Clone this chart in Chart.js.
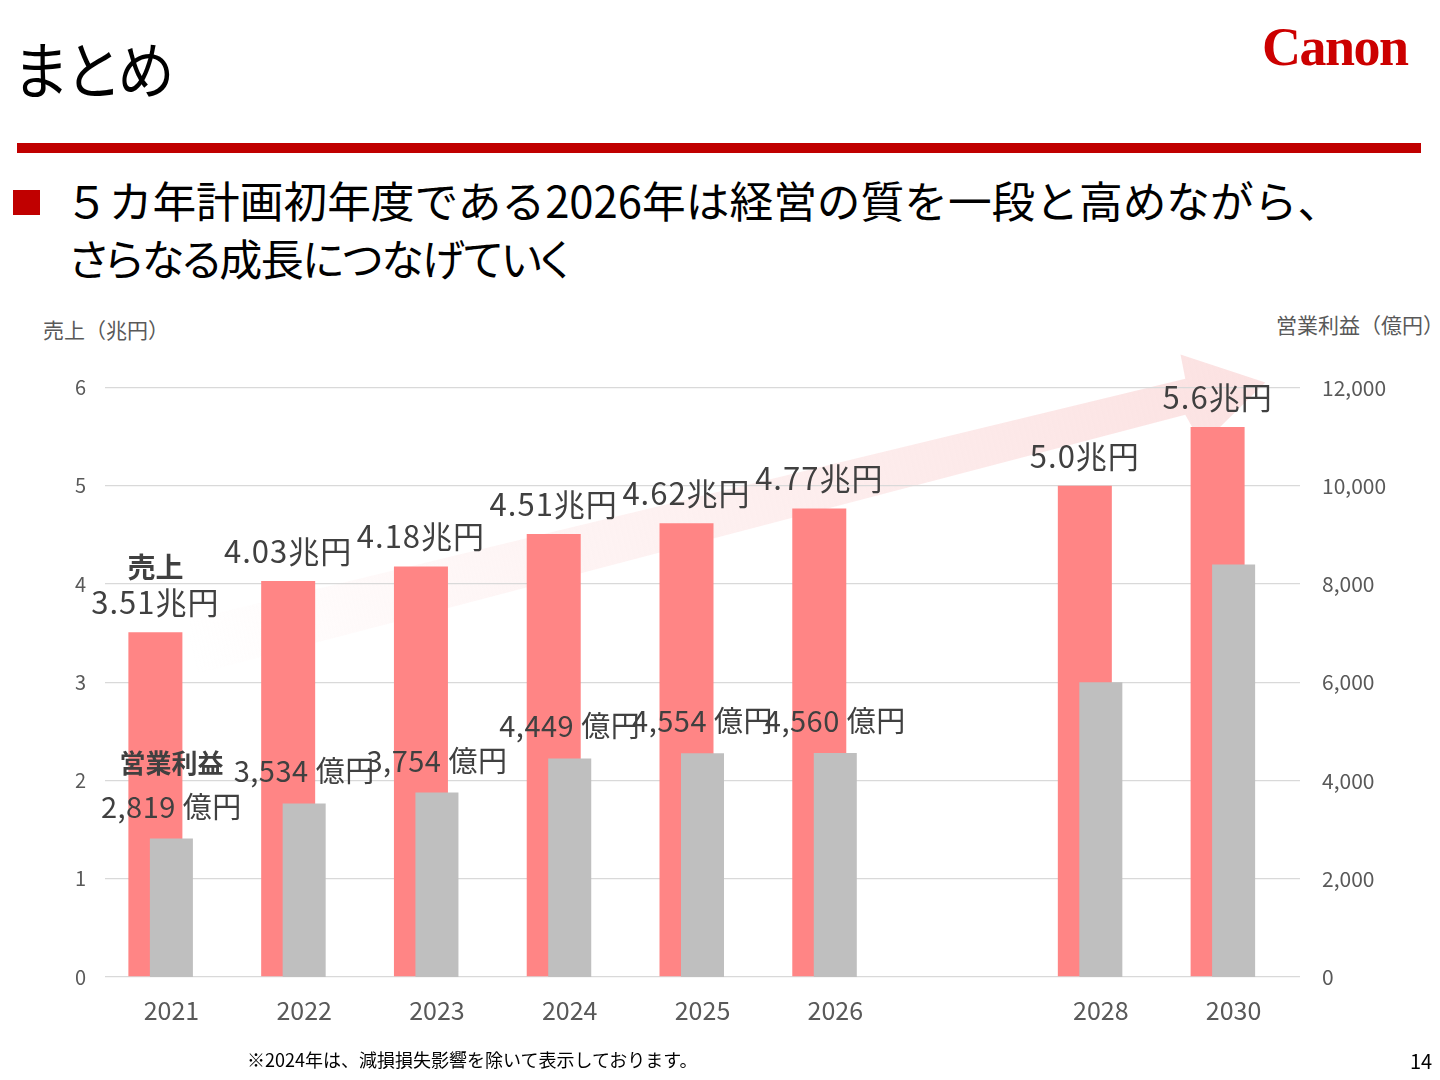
<!DOCTYPE html>
<html>
<head>
<meta charset="utf-8">
<script src="https://cdn.jsdelivr.net/npm/chart.js@4"></script>
<style>
  body { margin: 0; width: 1440px; height: 1080px; background: #fff; position: relative; overflow: hidden;
         font-family: "Noto Sans CJK JP", sans-serif; }
  .abs { position: absolute; white-space: nowrap; line-height: 1; }
  #title { left: 14px; top: 36px; font-size: 62px; color: #000; font-feature-settings: "palt"; transform: scaleX(0.92); transform-origin: left top; }
  #logo { left: 1262px; top: 20px; font-family: "Liberation Serif", serif; font-weight: bold; font-size: 54px; color: #cc0000; letter-spacing: -1.5px; }
  #rule { left: 17px; top: 143px; width: 1404px; height: 10px; background: #c00000; }
  #bullet { left: 13px; top: 190px; width: 27px; height: 25px; background: #c00000; }
  #line1 { left: 65px; top: 178px; font-size: 43.7px; color: #000; }
  #line2 { left: 69px; top: 236px; font-size: 43px; color: #000; font-feature-settings: "palt"; letter-spacing: -1.5px; }
  #ytitleL { left: 43px; top: 319px; font-size: 21px; color: #595959; }
  #ytitleR { left: 1276px; top: 314px; font-size: 21px; color: #595959; }
  #note { left: 247px; top: 1050px; font-size: 18px; color: #000; }
  #page { left: 1410px; top: 1051px; font-size: 20px; color: #000; }
  #wrap { position: absolute; left: 0; top: 353px; width: 1440px; height: 707px; }
</style>
</head>
<body>
<div class="abs" id="title">まとめ</div>
<div class="abs" id="logo">Canon</div>
<div class="abs" id="rule"></div>
<div class="abs" id="bullet"></div>
<div class="abs" id="line1">５カ年計画初年度である2026年は経営の質を一段と高めながら、</div>
<div class="abs" id="line2">さらなる成長につなげていく</div>
<div class="abs" id="ytitleL">売上（兆円）</div>
<div class="abs" id="ytitleR">営業利益（億円）</div>
<div id="wrap"><canvas id="salesChart"></canvas></div>
<div class="abs" id="note">※2024年は、減損損失影響を除いて表示しております。</div>
<div class="abs" id="page">14</div>

<script>
// categories (blank slot keeps the gap before 2028)
const years = ['2021', '2022', '2023', '2024', '2025', '2026', '', '2028', '2030'];
// 売上 (兆円)
const sales = [3.51, 4.03, 4.18, 4.51, 4.62, 4.77, null, 5.0, 5.6];
const salesText = ['3.51兆円', '4.03兆円', '4.18兆円', '4.51兆円', '4.62兆円', '4.77兆円', '', '5.0兆円', '5.6兆円'];
// 営業利益 (億円)
const profit = [2819, 3534, 3754, 4449, 4554, 4560, null, 6000, 8400];
const profitText = ['2,819 億円', '3,534 億円', '3,754 億円', '4,449 億円', '4,554 億円', '4,560 億円', '', '', ''];
const seriesNames = ['売上', '営業利益'];
const leftMax = 6, leftStep = 1;
const rightMax = 12000, rightStep = 2000;

const FONT = '"Noto Sans CJK JP", sans-serif';
const ctx = document.getElementById('salesChart').getContext('2d');

// pale growth arrow behind the bars
const arrowPlugin = {
    id: 'arrow',
    beforeDraw(chart) {
        const a = chart.chartArea;
        const w = a.right - a.left, h = a.bottom - a.top;
        const P = (fx, fy) => [a.left + fx * w, a.top + fy * h];
        const pts = [
            P(0.071, 0.394), P(0.904, -0.015), P(0.900, -0.056),
            P(0.971, -0.0085), P(0.918, 0.097), P(0.904, 0.046), P(0.071, 0.489)
        ];
        const c = chart.ctx;
        const tail = P(0.071, 0.44), tip = P(0.971, -0.0085);
        const g = c.createLinearGradient(tail[0], tail[1], tip[0], tip[1]);
        g.addColorStop(0, 'rgba(252,225,225,0)');
        g.addColorStop(0.35, 'rgba(252,226,226,0.4)');
        g.addColorStop(1, 'rgba(251,222,222,0.9)');
        c.save();
        c.beginPath();
        pts.forEach((p, i) => i ? c.lineTo(p[0], p[1]) : c.moveTo(p[0], p[1]));
        c.closePath();
        c.fillStyle = g;
        c.fill();
        c.restore();
    }
};

// value labels and series names above the bars
const labelPlugin = {
    id: 'barLabels',
    afterDatasetsDraw(chart) {
        const c = chart.ctx;
        c.save();
        c.textAlign = 'center';
        c.textBaseline = 'alphabetic';
        c.fillStyle = '#404040';
        const groups = [
            { ds: 0, text: salesText, gap: 18, font: '31px ' + FONT, spacing: '1px', name: seriesNames[0], nameFont: 'bold 28px ' + FONT, nameGap: 36 },
            { ds: 1, text: profitText, gap: 21, font: '29px ' + FONT, spacing: '0.5px', name: seriesNames[1], nameFont: 'bold 26px ' + FONT, nameGap: 45 }
        ];
        groups.forEach(gr => {
            const meta = chart.getDatasetMeta(gr.ds);
            meta.data.forEach((bar, i) => {
                if (!gr.text[i]) return;
                const y = bar.y - gr.gap;
                c.font = gr.font;
                c.letterSpacing = gr.spacing;
                c.fillText(gr.text[i], bar.x, y);
                if (i === 0) {
                    c.font = gr.nameFont;
                    c.letterSpacing = '0px';
                    c.fillText(gr.name, bar.x, y - gr.nameGap);
                }
            });
        });
        c.restore();
    }
};

new Chart(ctx, {
    type: 'bar',
    data: {
        labels: years,
        datasets: [
            {
                label: seriesNames[0],
                data: sales,
                backgroundColor: '#ff8585',
                yAxisID: 'y',
                order: 1,
                categoryPercentage: 0.482,
                barPercentage: 1.6875
            },
            {
                label: seriesNames[1],
                data: profit,
                backgroundColor: '#bfbfbf',
                yAxisID: 'y1',
                order: 0,
                grouped: false,
                categoryPercentage: 1,
                barPercentage: 0.324
            },
            {
                // empty partner so the sales bars sit left of the category centre
                label: '',
                data: years.map(() => null),
                yAxisID: 'y',
                order: 2,
                categoryPercentage: 0.482,
                barPercentage: 1
            }
        ]
    },
    options: {
        responsive: true,
        maintainAspectRatio: false,
        animation: false,
        layout: { padding: { top: 23, left: 0, right: 0, bottom: 0 } },
        plugins: {
            legend: { display: false },
            tooltip: { enabled: false }
        },
        scales: {
            x: {
                grid: { display: false },
                border: { display: false },
                ticks: { color: '#595959', font: { family: FONT, size: 25 }, padding: 10 },
                afterFit: s => { s.height = 83; }
            },
            y: {
                position: 'left',
                min: 0,
                max: leftMax,
                ticks: { stepSize: leftStep, color: '#595959', font: { family: FONT, size: 20 }, padding: 19 },
                grid: { color: '#d9d9d9', lineWidth: 1.3, drawTicks: false },
                border: { display: false },
                afterFit: s => { s.width = 105; }
            },
            y1: {
                position: 'right',
                min: 0,
                max: rightMax,
                ticks: {
                    stepSize: rightStep, color: '#595959', font: { family: FONT, size: 21 }, padding: 22,
                    callback: v => v.toLocaleString('en-US')
                },
                grid: { display: false, drawTicks: false },
                border: { display: false },
                afterFit: s => { s.width = 140; }
            }
        }
    },
    plugins: [arrowPlugin, labelPlugin]
});
</script>
</body>
</html>
